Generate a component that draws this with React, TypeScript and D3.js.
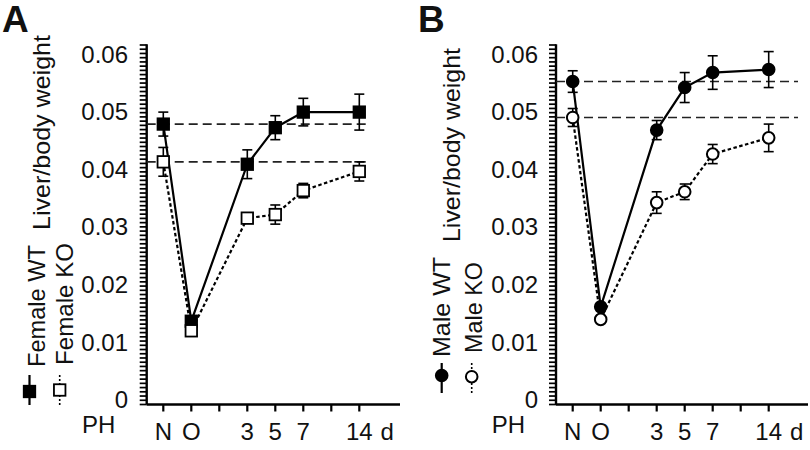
import React from 'react';
import * as d3 from 'd3';

// ---- data ----
const timeLabels = ['N', 'O', '3', '5', '7', '14'];
const timeSlots = [0, 1, 3, 4, 5, 7];
const slotCount = 8;
const unitLabel = 'd';
const yTickValues = [0, 0.01, 0.02, 0.03, 0.04, 0.05, 0.06];
const minorTickCount = 85;

const femaleWT = [0.0468, 0.0139, 0.0401, 0.0462, 0.0488, 0.0488];
const femaleWTErr = [0.002, 0.0008, 0.0024, 0.002, 0.0023, 0.003];
const femaleKO = [0.0405, 0.0123, 0.0311, 0.0317, 0.0357, 0.0389];
const femaleKOErr = [0.0024, 0.0006, 0.0007, 0.0016, 0.0012, 0.0016];

const maleWT = [0.0539, 0.0163, 0.0458, 0.0529, 0.0554, 0.0559];
const maleWTErr = [0.0018, 0.0005, 0.0016, 0.0025, 0.0028, 0.003];
const maleKO = [0.0479, 0.0142, 0.0337, 0.0355, 0.0418, 0.0445];
const maleKOErr = [0.0015, 0.0005, 0.0018, 0.0013, 0.0016, 0.0023];

const FONT = '"Liberation Sans", Arial, Helvetica, sans-serif';

type PanelProps = {
  letter: string;
  letterX: number;
  axisX: number;
  axisRight: number;
  slot0: number;
  refEnd: number;
  yLabelX: number;
  yLabelCY: number;
  yLabelLen: number;
  wtName: string;
  koName: string;
  wtText: { x: number; y: number; len: number };
  koText: { x: number; y: number; len: number };
  wtMark: { x: number; y: number; y0: number; y1: number };
  koMark: { x: number; y: number; y0: number; y1: number };
  tickLabelRight: number;
  phX: number;
  shape: 'square' | 'circle';
  wt: number[];
  wtErr: number[];
  ko: number[];
  koErr: number[];
};

const yScale = d3.scaleLinear().domain([0, 0.06]).range([404.5, 45]);
const yLabelScale = d3.scaleLinear().domain([0, 0.06]).range([399.5, 54]);

function Marker({ shape, x, y, filled }: { shape: string; x: number; y: number; filled: boolean }) {
  if (shape === 'square') {
    const s = 11.5;
    return (
      <rect x={x - s / 2} y={y - s / 2} width={s} height={s}
        fill={filled ? '#000' : '#fff'} stroke="#000" strokeWidth={1.8} />
    );
  }
  return <circle cx={x} cy={y} r={5.8} fill={filled ? '#000' : '#fff'} stroke="#000" strokeWidth={2} />;
}

function Panel(p: PanelProps) {
  const x = d3.scaleLinear().domain([0, slotCount]).range([p.slot0, p.slot0 + 28 * slotCount]);
  const line = d3.line<number>().x((_, i) => x(timeSlots[i])).y((d) => yScale(d));
  const minor = d3.range(minorTickCount + 1).map((i) => (i * 0.06) / minorTickCount);

  const errBars = (vals: number[], errs: number[], key: string) =>
    vals.map((v, i) => {
      const cx = x(timeSlots[i]);
      const t = yScale(v + errs[i]);
      const b = yScale(v - errs[i]);
      return (
        <g key={key + i} stroke="#000" strokeWidth={1.6}>
          <line x1={cx} x2={cx} y1={t} y2={b} />
          <line x1={cx - 5} x2={cx + 5} y1={t} y2={t} />
          <line x1={cx - 5} x2={cx + 5} y1={b} y2={b} />
        </g>
      );
    });

  return (
    <g fontFamily={FONT} fill="#111">
      <text x={p.letterX} y={32} fontSize={37} fontWeight="bold">{p.letter}</text>

      {/* y label */}
      <text transform={`translate(${p.yLabelX},${p.yLabelCY}) rotate(-90)`} textAnchor="middle"
        fontSize={24} textLength={p.yLabelLen} lengthAdjust="spacingAndGlyphs">Liver/body weight</text>

      {/* legend */}
      <text transform={`translate(${p.wtText.x},${p.wtText.y}) rotate(-90)`} fontSize={24}
        textLength={p.wtText.len} lengthAdjust="spacingAndGlyphs">{p.wtName}</text>
      <text transform={`translate(${p.koText.x},${p.koText.y}) rotate(-90)`} fontSize={24}
        textLength={p.koText.len} lengthAdjust="spacingAndGlyphs">{p.koName}</text>
      <line x1={p.wtMark.x} x2={p.wtMark.x} y1={p.wtMark.y0} y2={p.wtMark.y1} stroke="#000" strokeWidth={2.2} />
      <Marker shape={p.shape} x={p.wtMark.x} y={p.wtMark.y} filled={true} />
      <line x1={p.koMark.x} x2={p.koMark.x} y1={p.koMark.y0} y2={p.koMark.y1} stroke="#000" strokeWidth={1.6} strokeDasharray="2,2" />
      <Marker shape={p.shape} x={p.koMark.x} y={p.koMark.y} filled={false} />

      {/* y axis */}
      {minor.map((v, i) => (
        <line key={'m' + i} x1={p.axisX - 7} x2={p.axisX} y1={yScale(v)} y2={yScale(v)} stroke="#000" strokeWidth={1.7} />
      ))}
      <line x1={p.axisX} x2={p.axisX} y1={yScale(0.06) - 0.8} y2={yScale(0)} stroke="#000" strokeWidth={2.4} />
      {yTickValues.map((v) => (
        <text key={'yl' + v} x={p.tickLabelRight} y={yLabelScale(v)} dy="0.36em" textAnchor="end" fontSize={24}>
          {v === 0 ? '0' : d3.format('.2f')(v)}
        </text>
      ))}

      {/* x axis */}
      <line x1={p.axisX} x2={p.axisRight} y1={yScale(0)} y2={yScale(0)} stroke="#000" strokeWidth={2.4} />
      {d3.range(slotCount).map((i) => (
        <line key={'xt' + i} x1={x(i)} x2={x(i)} y1={yScale(0)} y2={yScale(0) + 7} stroke="#000" strokeWidth={2.2} />
      ))}
      {timeLabels.map((t, i) => (
        <text key={'xl' + t} x={x(timeSlots[i])} y={440} textAnchor="middle" fontSize={24}>{t}</text>
      ))}
      <text x={x(slotCount)} y={440} textAnchor="middle" fontSize={24}>{unitLabel}</text>
      <text x={p.phX} y={433} fontSize={24}>PH</text>

      {/* reference dashed lines */}
      <line x1={p.axisX} x2={p.refEnd} y1={yScale(p.wt[0])} y2={yScale(p.wt[0])} stroke="#222" strokeWidth={1.6} strokeDasharray="9,5" />
      <line x1={p.axisX} x2={p.refEnd} y1={yScale(p.ko[0])} y2={yScale(p.ko[0])} stroke="#222" strokeWidth={1.6} strokeDasharray="9,5" />

      {/* series lines */}
      <path d={line(p.ko) || ''} fill="none" stroke="#000" strokeWidth={2.2} strokeDasharray="3.5,2.5" />
      <path d={line(p.wt) || ''} fill="none" stroke="#000" strokeWidth={2.2} />

      {errBars(p.wt, p.wtErr, 'we')}
      {errBars(p.ko, p.koErr, 'ke')}

      {p.wt.map((v, i) => (
        <Marker key={'wm' + i} shape={p.shape} x={x(timeSlots[i])} y={yScale(v)} filled={true} />
      ))}
      {p.ko.map((v, i) => (
        <Marker key={'km' + i} shape={p.shape} x={x(timeSlots[i])} y={yScale(v)} filled={false} />
      ))}
    </g>
  );
}

export default function App() {
  return (
    <svg width={810} height={450} style={{ position: 'absolute', left: 0, top: 0, background: '#fff' }}>
      <rect width={810} height={450} fill="#fff" />
      <Panel
        letter="A" letterX={2}
        axisX={146.7} axisRight={400} slot0={163.3} refEnd={370}
        yLabelX={50} yLabelCY={132.5} yLabelLen={195}
        wtName="Female WT" koName="Female KO"
        wtText={{ x: 45, y: 367, len: 122 }} koText={{ x: 73, y: 365, len: 122 }}
        wtMark={{ x: 29.5, y: 391.5, y0: 375, y1: 405 }} koMark={{ x: 59.7, y: 390, y0: 375, y1: 405 }}
        tickLabelRight={128} phX={82} shape="square"
        wt={femaleWT} wtErr={femaleWTErr} ko={femaleKO} koErr={femaleKOErr}
      />
      <Panel
        letter="B" letterX={418}
        axisX={556} axisRight={808} slot0={572.7} refEnd={798}
        yLabelX={460} yLabelCY={145} yLabelLen={194}
        wtName="Male WT" koName="Male KO"
        wtText={{ x: 450, y: 357, len: 100 }} koText={{ x: 482, y: 353, len: 91 }}
        wtMark={{ x: 441.7, y: 375.5, y0: 363, y1: 393 }} koMark={{ x: 471.7, y: 376.7, y0: 363, y1: 393 }}
        tickLabelRight={538} phX={491.7} shape="circle"
        wt={maleWT} wtErr={maleWTErr} ko={maleKO} koErr={maleKOErr}
      />
    </svg>
  );
}
